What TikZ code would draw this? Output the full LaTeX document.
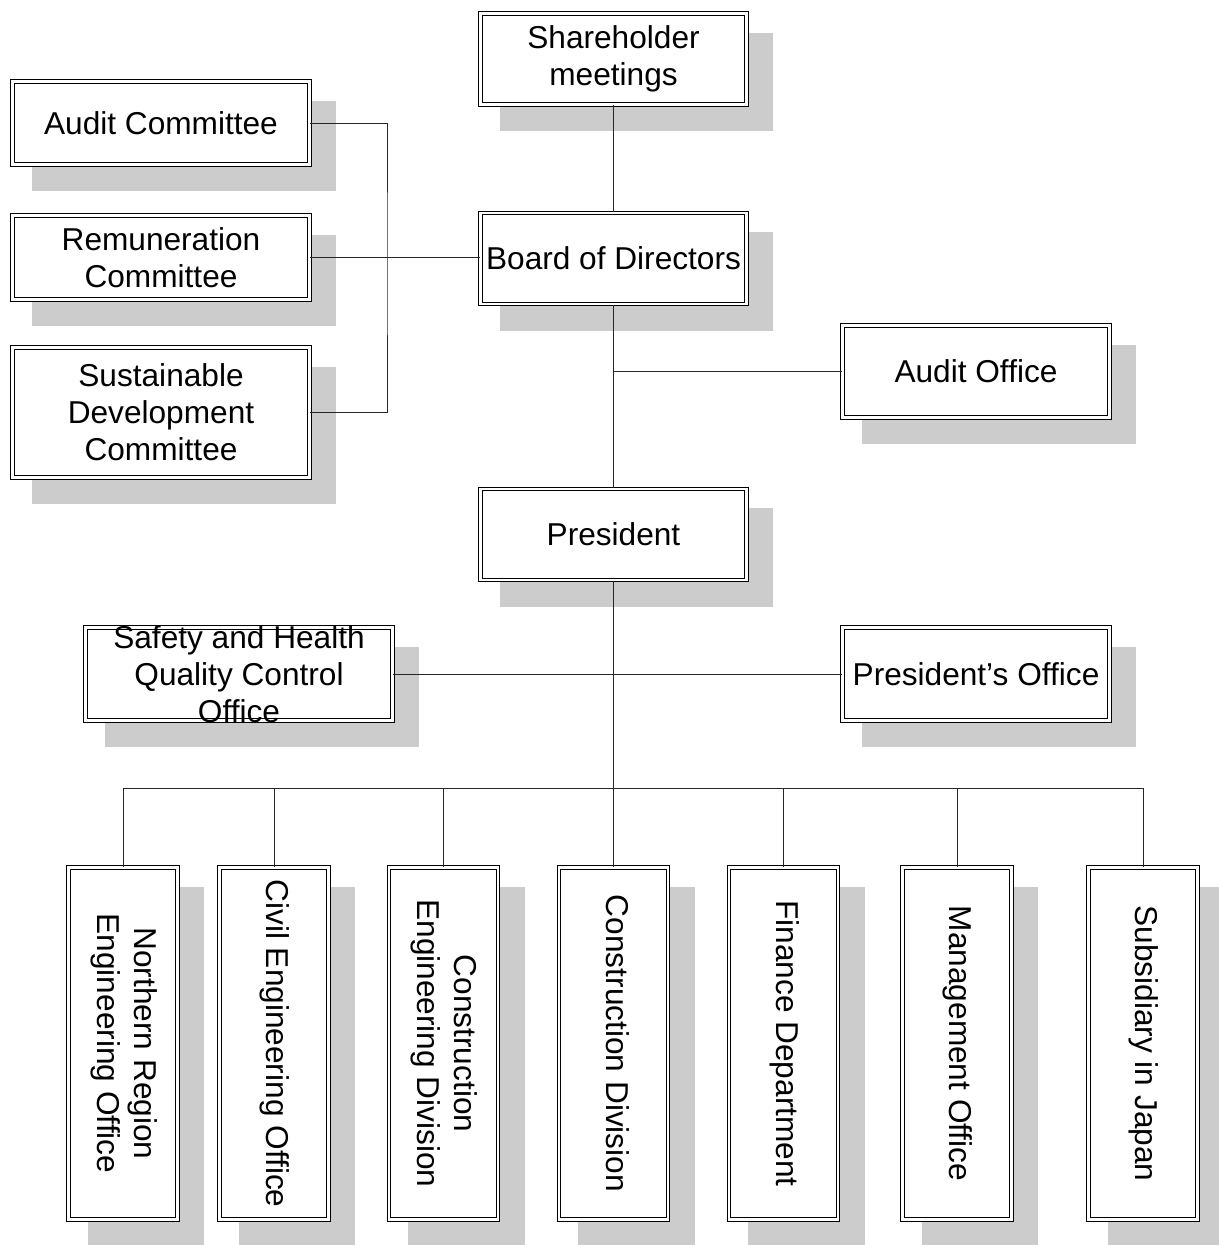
\documentclass[tikz,border=0pt]{standalone}
\usepackage{fontspec}
\setmainfont{Liberation Sans}
\usepackage{graphicx}
\usepackage{tikz}
\usetikzlibrary{positioning, calc, backgrounds}

\newcommand{\vtext}[1]{\rotatebox{-90}{\begin{tabular}{@{}c@{}}#1\end{tabular}}}

\begin{document}
\begin{tikzpicture}[
    x=0.02cm, y=-0.02cm,
    font=\fontsize{18}{21}\selectfont,
    obox/.style={rectangle, draw=black, fill=white, line width=0.6pt, double=white, double distance=1.6pt, align=center, inner sep=1pt},
    mbox/.style={obox, minimum width=5.32cm, minimum height=1.82cm},
    cbox/.style={obox, minimum width=5.94cm},
    vbox/.style={obox, minimum width=2.18cm, minimum height=7.04cm},
    link/.style={line width=0.45pt, color=black!85},
    shadowbox/.style={fill=black!20}
]
\useasboundingbox (0,0) rectangle (1218,1245);

% main column
\node[mbox] (share) at (613.5,59) {Shareholder\\meetings};
\node[mbox] (board) at (613.5,258.5) {Board of Directors};
\node[mbox] (pres) at (613.5,534.5) {President};

% committees
\node[cbox, minimum height=1.66cm] (audit) at (161,123) {Audit Committee};
\node[cbox, minimum height=1.68cm] (remun) at (161,257.5) {Remuneration\\Committee};
\node[cbox, minimum height=2.6cm] (sustain) at (161,412.5) {Sustainable\\Development\\Committee};

% offices
\node[obox, minimum width=5.34cm, minimum height=1.84cm] (auditoff) at (976,371.5) {Audit Office};
\node[obox, minimum width=6.14cm, minimum height=1.86cm,
      label={[align=center]center:{Safety and Health\\Quality Control\\Office}}] (safety) at (239,674) {};
\node[obox, minimum width=5.34cm, minimum height=1.86cm] (presoff) at (976,674) {President’s Office};

% departments
\node[vbox] (north) at (123,1043.5) {\vtext{Northern Region\\Engineering Office}};
\node[vbox] (civil) at (274,1043.5) {\vtext{Civil Engineering Office}};
\node[vbox] (coneng) at (443.5,1043.5) {\vtext{Construction\\Engineering Division}};
\node[vbox] (condiv) at (613.5,1043.5) {\vtext{Construction Division}};
\node[vbox] (finance) at (783.5,1043.5) {\vtext{Finance Department}};
\node[vbox] (manage) at (957,1043.5) {\vtext{Management Office}};
\node[vbox] (subs) at (1143,1043.5) {\vtext{Subsidiary in Japan}};

% shadows
\begin{scope}[on background layer]
\foreach \n in {share,board,pres,audit,remun,sustain,auditoff,safety,presoff,north,civil,coneng,condiv,finance,manage,subs}
  \fill[shadowbox] ([shift={(20,26)}]\n.south west) rectangle ([shift={(26,20)}]\n.north east);
\end{scope}

% connectors
\coordinate (cbar) at (387,260);
\coordinate (bus) at (613.5,788);

\draw[link] (share) -- (board);
\draw[link] (board) -- (pres);
\draw[link] (auditoff.west) -- (auditoff.west -| board.south);
\draw[link] (audit.east) -| (cbar) |- (sustain.east);
\draw[link] (remun.east) -- (remun.east -| board.west);
\draw[link] (safety.east) -- (presoff.west);
\draw[link] (pres) -- (bus);
\draw[link] (north.north |- bus) -- (subs.north |- bus);
\foreach \n in {north,civil,coneng,condiv,finance,manage,subs}
  \draw[link] (\n.north |- bus) -- (\n.north);

\end{tikzpicture}
\end{document}
